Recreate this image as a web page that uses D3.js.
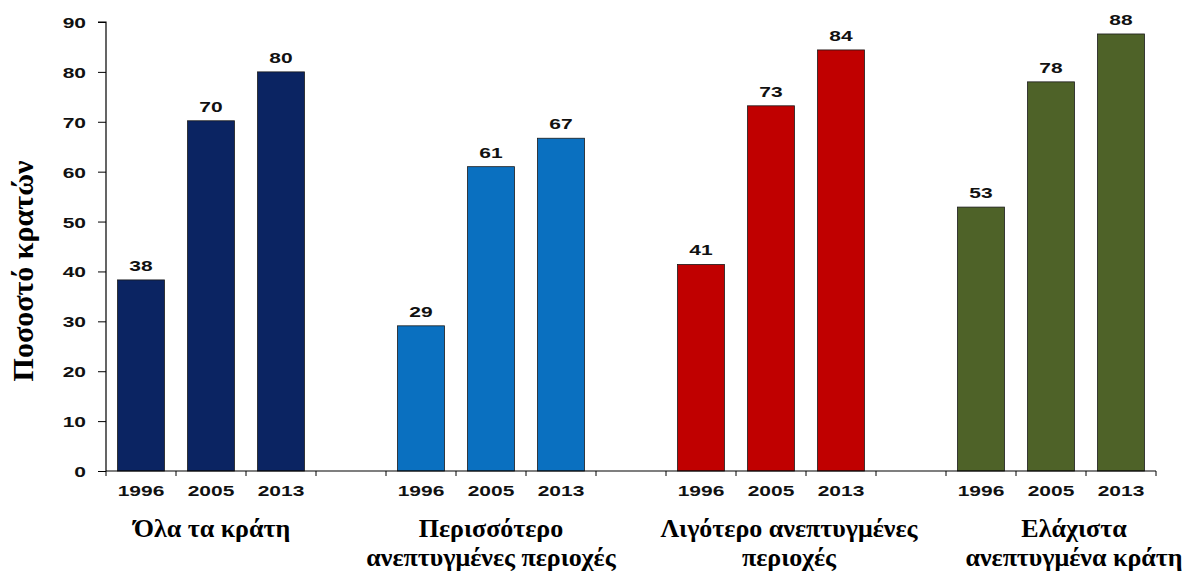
<!DOCTYPE html>
<html>
<head>
<meta charset="utf-8">
<script src="https://cdn.jsdelivr.net/npm/d3@7"></script>
<style>
  body { margin: 0; background: #fff; }
  svg { display: block; }
  .num { font-family: "Liberation Sans", Arial, sans-serif; font-weight: bold; font-size: 15px; fill: #111; }
  .grp { font-family: "Liberation Serif", "Times New Roman", serif; font-weight: bold; font-size: 26px; fill: #000; }
</style>
</head>
<body>
<svg id="chart" width="1190" height="574"></svg>
<script>
const years = ["1996", "2005", "2013"];
const groups = ["all", "more", "less", "least"];
const groupLabels = [
  ["Όλα τα κράτη"],
  ["Περισσότερο", "ανεπτυγμένες περιοχές"],
  ["Λιγότερο ανεπτυγμένες", "περιοχές"],
  ["Ελάχιστα", "ανεπτυγμένα κράτη"]
];
const groupColors = ["#0b2462", "#0a70c0", "#c00000", "#4e6228"];
const valuesAll = [38.3, 70.2, 80.0];
const valuesMore = [29.1, 61.0, 66.7];
const valuesLess = [41.4, 73.2, 84.4];
const valuesLeast = [52.9, 78.0, 87.6];
const yTicks = [0, 10, 20, 30, 40, 50, 60, 70, 80, 90];
const yTitle = "Ποσοστό κρατών";

const seriesValues = [valuesAll, valuesMore, valuesLess, valuesLeast];

const svg = d3.select("#chart");
const mLeft = 106, mRight = 1156, mTop = 22, mBottom = 471;

const slots = [];
groups.forEach((g, gi) => {
  years.forEach(yv => slots.push(g + "|" + yv));
  if (gi < groups.length - 1) slots.push(g + "|gap");
});

const x = d3.scaleBand().domain(slots).range([mLeft, mRight]).paddingInner(0).paddingOuter(0);
const y = d3.scaleLinear().domain([0, 90]).range([mBottom, mTop]);

const data = [];
groups.forEach((g, gi) => years.forEach((yr, yi) => data.push({ g, gi, yr, v: seriesValues[gi][yi], key: g + "|" + yr })));

const barFrac = 0.67;
const bw = x.bandwidth() * barFrac;
svg.append("g").selectAll("rect").data(data).join("rect")
  .attr("x", d => x(d.key) + (x.bandwidth() - bw) / 2)
  .attr("y", d => y(d.v))
  .attr("width", bw)
  .attr("height", d => y(0) - y(d.v))
  .attr("fill", d => groupColors[d.gi])
  .attr("stroke", "#1a1a1a")
  .attr("stroke-width", 0.8);

const sx = 1.4;
svg.append("g").selectAll("g").data(data).join("g")
  .attr("transform", d => `translate(${x(d.key) + x.bandwidth() / 2},${y(d.v) - 9}) scale(${sx},1)`)
  .append("text").attr("class", "num").attr("text-anchor", "middle")
  .text(d => d3.format(".0f")(d.v));

const yAxis = d3.axisLeft(y).tickValues(yTicks).tickSize(8).tickFormat(d3.format("d"));
const yg = svg.append("g").attr("transform", `translate(${mLeft},0)`).call(yAxis);
yg.select(".domain").attr("stroke", "#000").attr("stroke-width", 1.2).attr("d", `M-8,${mTop}H0V${mBottom}`);
yg.selectAll(".tick line").attr("stroke", "#000");
yg.selectAll(".tick text").remove();
yg.selectAll(".tick").append("g")
  .attr("transform", `translate(-20,5.5) scale(${sx},1)`)
  .append("text").attr("class", "num").attr("text-anchor", "end").text(d => d);

const xg = svg.append("g");
xg.append("line").attr("x1", mLeft).attr("x2", mRight).attr("y1", mBottom).attr("y2", mBottom)
  .attr("stroke", "#000").attr("stroke-width", 1.2);
const bounds = slots.map(s => x(s)).concat([x(slots[slots.length - 1]) + x.bandwidth()]);
xg.selectAll("line.t").data(bounds).join("line").attr("class", "t")
  .attr("x1", d => d).attr("x2", d => d).attr("y1", mBottom).attr("y2", mBottom + 5)
  .attr("stroke", "#000").attr("stroke-width", 1);
xg.selectAll("g.yr").data(data).join("g").attr("class", "yr")
  .attr("transform", d => `translate(${x(d.key) + x.bandwidth() / 2},496) scale(${sx},1)`)
  .append("text").attr("class", "num").attr("text-anchor", "middle").text(d => d.yr);

const labelDx = [1, 0, 18, 23];
groups.forEach((g, gi) => {
  const cx = (x(g + "|" + years[0]) + x(g + "|" + years[2]) + x.bandwidth()) / 2 + labelDx[gi];
  const t = svg.append("text").attr("class", "grp").attr("text-anchor", "middle")
    .attr("x", cx).attr("y", 537);
  groupLabels[gi].forEach((line, li) => {
    t.append("tspan").attr("x", cx).attr("dy", li === 0 ? 0 : 29).text(line);
  });
});

svg.append("text").attr("class", "grp").style("font-size", "30px")
  .attr("text-anchor", "middle")
  .attr("transform", `translate(33,271) rotate(-90)`)
  .text(yTitle);
</script>
</body>
</html>
